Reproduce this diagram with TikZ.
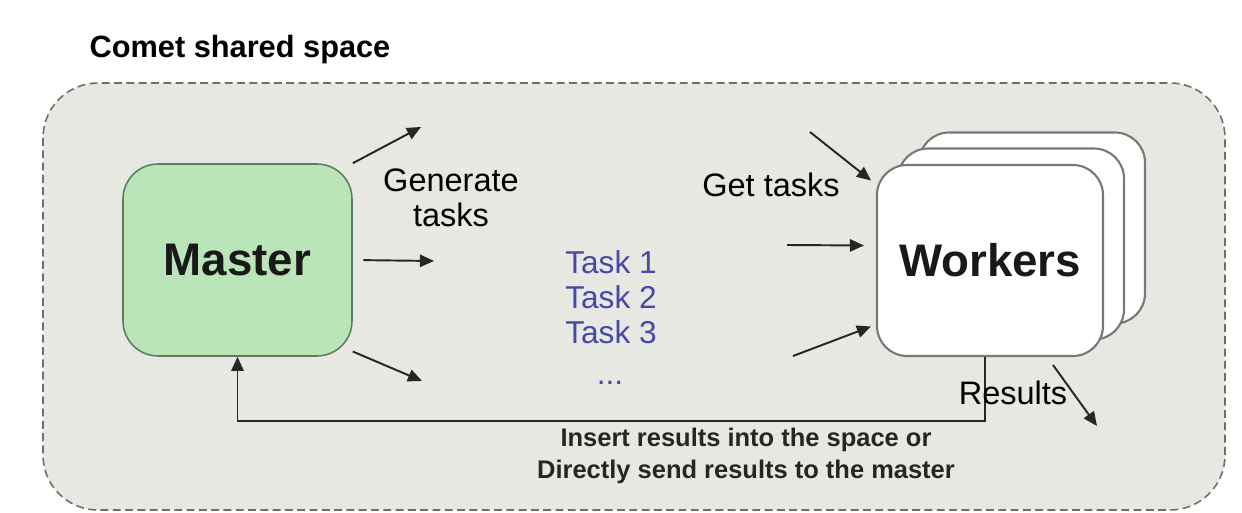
\documentclass[tikz,border=0pt]{standalone}
\usepackage{fontspec}
\setmainfont{Liberation Sans}
\usetikzlibrary{arrows.meta}
\definecolor{spacegray}{RGB}{232,232,226}
\definecolor{mastergreen}{RGB}{185,229,185}
\definecolor{masteredge}{RGB}{95,125,95}
\definecolor{workeredge}{RGB}{120,120,120}
\definecolor{taskblue}{RGB}{72,72,170}
\definecolor{dashgray}{RGB}{110,110,110}

\begin{document}
\begin{tikzpicture}[x=0.02cm, y=-0.02cm,
    arr/.style={-{Triangle[length=8pt,width=7pt]}, line width=1.1pt, draw=black!85},
    workerbox/.style={draw=workeredge, line width=1.2pt, fill=white, rounded corners=0.6cm, minimum width=4.52cm, minimum height=3.82cm},
    txt/.style={font=\fontsize{18.5}{20}\selectfont},
    tasktext/.style={text=taskblue, font=\fontsize{18}{20}\selectfont}]
    \useasboundingbox (0,0) rectangle (1242,513);

    % Shared space
    \draw[dashgray, fill=spacegray, dash pattern=on 4.5pt off 2.5pt, line width=0.9pt, rounded corners=1.1cm] (43,83) rectangle (1225,510);
    \node[font=\bfseries\fontsize{17.5}{20}\selectfont] (title) at (240,50) {Comet shared space};

    % Master
    \node[draw=masteredge, fill=mastergreen, line width=0.9pt, rounded corners=0.7cm, minimum width=4.58cm, minimum height=3.84cm, font=\bfseries\fontsize{26}{30}\selectfont, text=black!90] (master) at (237.5,260) {Master};

    % Workers
    \node[workerbox] (wk3) at (1032,228) {};
    \node[workerbox] (wk2) at (1011,244) {};
    \node[workerbox, font=\bfseries\fontsize{26}{30}\selectfont, text=black!90] (wk1) at (990,260.5) {Workers};

    % Generate tasks
    \coordinate (gen1) at (421,127);
    \coordinate (gen2) at (434,261);
    \coordinate (gen3) at (422,381);
    \draw[arr] (master.north east) -- (gen1);
    \draw[arr, shorten <=6pt] (master.east) -- (gen2);
    \draw[arr] ([yshift=3pt]master.south east) -- (gen3);
    \node[txt, align=center] (gen) at (451,198) {Generate\\tasks};

    % Tasks
    \node[tasktext] (task1) at (611,262) {Task 1};
    \node[tasktext] (task2) at (611,297) {Task 2};
    \node[tasktext] (task3) at (611,332) {Task 3};
    \node[tasktext] (dots) at (610,383) {...};

    % Get tasks
    \coordinate (get1) at (810,132);
    \coordinate (get2) at (787,245);
    \coordinate (get3) at (793,356);
    \draw[arr] (get1) -- ([shift={(-5,-80)}]wk1.west);
    \draw[arr] (get2) -- ([shift={(-12,-15)}]wk1.west);
    \draw[arr] (get3) -- ([shift={(-5,66)}]wk1.west);
    \node[txt] (get) at (771,185) {Get tasks};

    % Results
    \coordinate (back) at (985,421);
    \draw[arr] (wk1.south -| back) -- (back) -| (master.south);
    \coordinate (res1) at (1053,365);
    \coordinate (res2) at (1097,426);
    \draw[arr] (res1) -- (res2);
    \node[txt] (res) at (1013,393) {Results};
    \node[font=\bfseries\fontsize{14.5}{18}\selectfont, text=black!85, align=center] (note) at (746,456) {Insert results into the space or\\Directly send results to the master};
\end{tikzpicture}
\end{document}
